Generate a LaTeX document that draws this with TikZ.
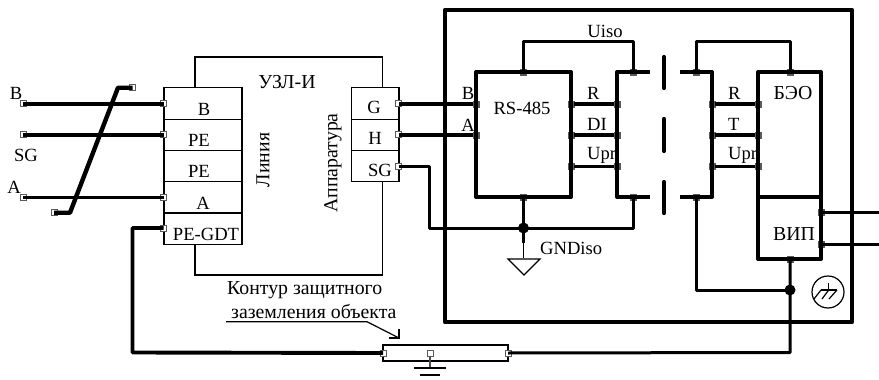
\documentclass[tikz,border=0pt]{standalone}
\usepackage{fontspec}
\setmainfont{Liberation Serif}

\tikzset{
  txt/.style={inner sep=0pt, font=\fontsize{18.6}{19}\selectfont},
  cyr/.style={inner sep=0pt, font=\fontsize{19.8}{20}\selectfont},
  cell/.style={draw, line width=1.2pt, minimum width=#1, minimum height=31.3pt, inner sep=0pt},
  term/.style={draw=black!65, fill=white, line width=1pt, minimum size=6pt, inner sep=0pt},
  port/.style={draw=black!65, fill=black!65, minimum size=6pt, inner sep=0pt},
  thin wire/.style={line width=1.2pt},
  wire/.style={line width=3.9pt, line join=round},
  midwire/.style={line width=3pt, line join=round},
  frame/.style={line width=4.2pt, line join=round, line cap=round},
  dot/.style={circle, fill=black, minimum size=11pt, inner sep=0pt}
}

\begin{document}
\begin{tikzpicture}[x=1pt, y=-1pt]
\useasboundingbox (0,0) rectangle (879,380);

% line side block
\node[cell=78pt] (rowB) at (203,103.5) {};
\node[cell=78pt] (rowPEa) at (203,134.8) {};
\node[cell=78pt] (rowPEb) at (203,166.1) {};
\node[cell=78pt] (rowA) at (203,197.4) {};
\node[cell=78pt] (rowGDT) at (203,228.7) {};

% equipment side block
\node[cell=47.6pt] (rowG) at (375.2,103.5) {};
\node[cell=47.6pt] (rowH) at (375.2,134.8) {};
\node[cell=47.6pt] (rowSG) at (375.2,166.1) {};

% earth bar
\node[draw, line width=1.2pt, minimum width=125pt, minimum height=16pt, inner sep=0pt] (bar) at (445.5,353) {};

% terminals
\node[term] (inB) at (23,103.7) {};
\node[term] (inPE) at (23,134.7) {};
\node[term] (inA) at (23,197) {};
\node[term] (crossTop) at (132.5,87.7) {};
\node[term] (crossBot) at (54,212.7) {};
\node[term] (tB) at (163.7,103.7) {};
\node[term] (tPE) at (163.7,134.7) {};
\node[term] (tA) at (163.7,197) {};
\node[term] (tGDT) at (163.7,228) {};
\node[term] (tG) at (398.5,103.7) {};
\node[term] (tH) at (398.5,134.7) {};
\node[term] (tSG) at (398.5,166) {};
\node[term] (barL) at (383,353) {};
\node[term] (barR) at (508,353) {};
\node[term] (barC) at (430,353) {};

% ports on the boxes
\node[port] (rsB) at (476,103.7) {};
\node[port] (rsA) at (476,134.7) {};
\node[port] (rsR) at (571,103.7) {};
\node[port] (rsDI) at (571,134.7) {};
\node[port] (rsU) at (571,166) {};
\node[port] (rsTop) at (523.5,72) {};
\node[port] (rsBot) at (523.5,197) {};
\node[port] (isoAR) at (617,103.7) {};
\node[port] (isoAD) at (617,134.7) {};
\node[port] (isoAU) at (617,166) {};
\node[port] (isoATop) at (633,72) {};
\node[port] (isoABot) at (633,197) {};
\node[port] (isoBTop) at (696,72) {};
\node[port] (isoBBot) at (696,197) {};
\node[port] (isoBR) at (712,103.7) {};
\node[port] (isoBT) at (712,134.7) {};
\node[port] (isoBU) at (712,166) {};
\node[port] (beoR) at (758,103.7) {};
\node[port] (beoT) at (758,134.7) {};
\node[port] (beoU) at (758,166) {};
\node[port] (beoTop) at (790,72) {};
\node[port] (vipBot) at (790,259) {};
\node[port] (vipA) at (821,212) {};
\node[port] (vipB) at (821,244) {};

\coordinate (outA) at (879,212);
\coordinate (outB) at (879,244);

% texts
\node[txt] (lB) at (16,93) {B};
\node[txt] (lSG) at (26,155) {SG};
\node[txt] (lA) at (14,187) {A};
\node[txt] (cB) at (204,109) {B};
\node[txt] (cPEa) at (199,140) {PE};
\node[txt] (cPEb) at (199,171) {PE};
\node[txt] (cA) at (203,203) {A};
\node[txt] (cGDT) at (206,234) {PE-GDT};
\node[cyr, rotate=90] (lLine) at (263,160) {Линия};
\node[cyr] (lNode) at (287,82) {УЗЛ-И};
\node[cyr, rotate=90] (lApp) at (333,163) {Аппаратура};
\node[txt] (cG) at (374,107) {G};
\node[txt] (cH) at (375,138) {H};
\node[txt] (cSG) at (380,170) {SG};
\node[txt] (lrsB) at (468,93) {B};
\node[txt] (lrsA) at (468,125) {A};
\node[txt] (rsName) at (522,108) {RS-485};
\node[txt, anchor=west] (lrsR) at (587,93) {R};
\node[txt, anchor=west] (lrsDI) at (587,124) {DI};
\node[txt, anchor=west] (lrsU) at (587,155) {Upr};
\node[txt, anchor=west] (lbeR) at (728,93) {R};
\node[txt, anchor=west] (lbeT) at (728,124) {T};
\node[txt, anchor=west] (lbeU) at (728,155) {Upr};
\node[txt] (lUiso) at (605,31) {Uiso};
\node[cyr] (lBeo) at (793,93) {БЭО};
\node[cyr] (lVip) at (794,234) {ВИП};
\node[txt, anchor=west] (lGnd) at (540,248) {GNDiso};
\node[cyr, anchor=west] (lNoteA) at (227,290) {Контур защитного};
\node[cyr, anchor=west] (lNoteB) at (231,312) {заземления объекта};

% thin body of the device
\draw[thin wire] (195,88) -- (195,57) -| (382.7,88);
\draw[thin wire] (195,244.3) -- (195,275) -| (382.7,181.7);

% outer frame
\draw[frame] (445,10) rectangle (852,322);

% line side wiring
\draw[wire] (inB.center) -- (tB.center);
\draw[wire] (inPE.center) -- (tPE.center);
\draw[midwire] (inA.center) -- (tA.center);
\draw[wire, line width=4.4pt] (crossTop.center) -- (118,87.7) -- (70,212.7) -- (crossBot.center);
\draw[wire] (tGDT.center) -| (132.5,352.5) -- (barL.center);

% RS-485 side
\draw[wire] (tG.center) -- (rsB);
\draw[wire] (tH.center) -- (rsA);
\draw[midwire] (tSG.center) -| (429,228) -| (isoABot.center);
\draw[wire] (650,72) -- (617,72) -- (617,197) -- (650,197);
\draw[wire] (476,72) rectangle (571,197);
\draw[midwire] (rsTop.center) -- (523.5,41) -| (isoATop.center);
\draw[midwire] (isoBTop.center) -- (696,41) -| (beoTop.center);
\draw[wire] (rsR) -- (isoAR);
\draw[wire] (rsDI) -- (isoAD);
\draw[midwire] (rsU) -- (isoAU);
\draw[wire] (rsBot.center) -- (523.5,243);
\draw[thin wire] (523.5,243) -- (523.5,258);
\draw[thin wire] (508,259) -- (540,259) -- (524,275) -- cycle;

% isolation gap
\draw[frame] (664,57) -- (664,88);
\draw[frame] (664,119) -- (664,151);
\draw[frame] (664,182) -- (664,213);
\draw[wire] (680,72) -- (712,72) -- (712,197) -- (680,197);

% right side
\draw[wire] (isoBR) -- (beoR);
\draw[wire] (isoBT) -- (beoT);
\draw[midwire] (isoBU) -- (beoU);
\draw[wire] (758,72) rectangle (821,259);
\draw[wire] (758,197) -- (821,197);
\draw[midwire] (vipA.center) -- (outA);
\draw[midwire] (vipB.center) -- (outB);
\draw[midwire] (isoBBot.center) |- (790,290);
\draw[midwire] (vipBot.center) -- (790,352.5) -- (barR.center);

\node[dot] (jGnd) at (523.5,228) {};
\node[dot] (jEarth) at (790,290) {};

% earth bar leader and ground
\draw[thin wire] (226,321.7) -- (367,321.7) -- (399,338);
\draw[thin wire] (399,329) -- (399,338) -- (389,338);
\draw[thin wire, black!70] (barC) -- (430,368);
\draw[thin wire] (414,368) -- (446,368);
\draw[line width=1.6pt] (420,375) -- (440,375);

% protective earth mark
\node[draw, circle, line width=1.2pt, minimum size=32pt, inner sep=0pt] (pe) at (828,292) {};
\draw[thin wire] (828.7,283) -- (828.7,290);
\draw[thin wire] (821,290) -- (837,290);
\draw[thin wire] (821,290) -- (814,299);
\draw[thin wire] (828.7,290) -- (822,299);
\draw[thin wire] (837,290) -- (829,299);

\end{tikzpicture}
\end{document}
